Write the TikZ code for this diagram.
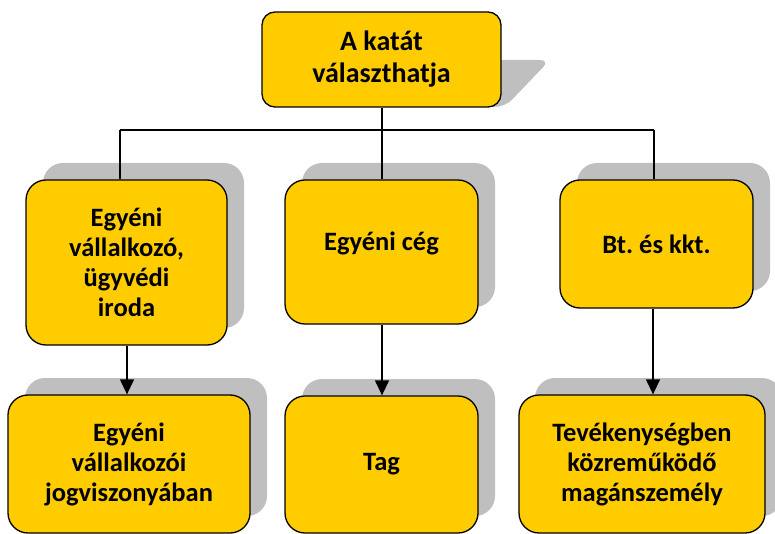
\documentclass[tikz,border=0pt]{standalone}
\usepackage{fontspec}
\setmainfont{Carlito}
\usetikzlibrary{arrows.meta}
\definecolor{boxfill}{HTML}{FFCC00}
\definecolor{shadowgray}{HTML}{BFBFBF}
\tikzset{
  box/.style={draw=black, line width=1.3pt, fill=boxfill, rounded corners=20pt,
    align=center, inner sep=0pt, font=\fontsize{26.5}{30}\selectfont\bfseries\frenchspacing},
  topbox/.style={box, rounded corners=13pt, font=\fontsize{28}{32}\selectfont\bfseries},
  shade/.style={fill=shadowgray, rounded corners=20pt},
  conn/.style={draw=black, line width=1.3pt},
  arr/.style={conn, -{Triangle[length=15pt,width=14pt]}}
}
\begin{document}
\begin{tikzpicture}[x=1pt,y=-1pt]
\useasboundingbox (0,0) rectangle (775,534);
% shadows
\fill[shade, rounded corners=10pt] (300,107) -- (330,60) -- (550,60) -- (505,107) -- cycle;
\fill[shade] (43,163) rectangle (244,328);
\fill[shade] (302,163) rectangle (495,307);
\fill[shade] (577,163) rectangle (770,291);
\fill[shade] (25,378) rectangle (267,516);
\fill[shade] (302,379) rectangle (495,516);
\fill[shade] (535,378) rectangle (782,516);
% boxes
\node[topbox, minimum width=239pt, minimum height=95pt] (top) at (381.5,59.5) {A katát\\választhatja};
\node[box, minimum width=201pt, minimum height=165pt] (b1) at (126.5,262.5) {Egyéni\\vállalkozó,\\ügyvédi\\iroda};
\node[box, minimum width=193pt, minimum height=144pt] (b2) at (381.5,252) {\raisebox{22pt}{Egyéni cég}};
\node[box, minimum width=193pt, minimum height=128pt] (b3) at (656.5,244) {Bt. és kkt.};
\node[box, minimum width=242pt, minimum height=138pt] (b4) at (129,464) {Egyéni\\vállalkozói\\jogviszonyában};
\node[box, minimum width=193pt, minimum height=137pt] (b5) at (381.5,464.5) {Tag};
\node[box, minimum width=246pt, minimum height=138pt] (b6) at (642,464) {Tevékenységben\\közreműködő\\magánszemély};
% connectors
\coordinate (j0) at (382,130);
\coordinate (j1) at (120,130);
\coordinate (j3) at (654,130);
\draw[conn] (top.south -| j0) -- (j0);
\draw[conn] (j1) -- (j3);
\draw[conn] (j1) -- (j1 |- b1.north);
\draw[conn] (j0) -- (j0 |- b2.north);
\draw[conn] (j3) -- (j3 |- b3.north);
\coordinate (a1) at (127,0);
\coordinate (a3) at (653,0);
\draw[arr] (a1 |- b1.south) -- (a1 |- b4.north);
\draw[arr] (j0 |- b2.south) -- (j0 |- b5.north);
\draw[arr] (a3 |- b3.south) -- (a3 |- b6.north);
\end{tikzpicture}
\end{document}
